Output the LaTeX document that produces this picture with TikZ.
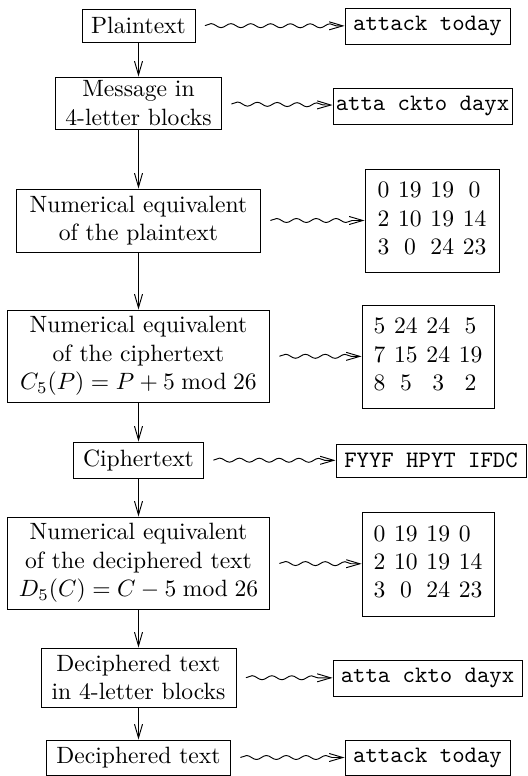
\documentclass[tikz,border=0pt]{standalone}
\usetikzlibrary{arrows.meta,decorations.pathmorphing}
\newcommand\pxu{0.424pt}
\begin{document}
\begin{tikzpicture}[x=0.424pt, y=-0.424pt,
  box/.style 2 args={draw, line width=0.4pt, inner sep=0pt, align=center,
    minimum width=#1*\pxu, minimum height=#2*\pxu},
  tip/.style={-{Straight Barb[length=5.8pt,width=3.4pt]}},
  down/.style={tip, line width=0.4pt},
  sq/.style={tip, line width=0.4pt, decorate,
    decoration={snake, amplitude=0.85pt, segment length=8.4pt,
      pre=moveto, pre length=4pt, post length=2.5pt}}]
\useasboundingbox (0,0) rectangle (528,776);

% left column: the stages of the cipher
\node[box={113}{33}] (p1) at (138.5,25.5) {Plaintext};
\node[box={166}{52}] (p2) at (138.5,103) {Message in\\4-letter blocks};
\node[box={244}{63}] (p3) at (138.5,220.5) {Numerical equivalent\\of the plaintext};
\node[box={262}{92}] (p4) at (138.5,356) {Numerical equivalent\\of the ciphertext\\$C_5(P)=P+5 \bmod 26$};
\node[box={130}{36}] (p5) at (138.5,460) {Ciphertext};
\node[box={262}{92}] (p6) at (138.5,563) {Numerical equivalent\\of the deciphered text\\$D_5(C)=C-5 \bmod 26$};
\node[box={195}{59}] (p7) at (138.5,677.5) {Deciphered text\\in 4-letter blocks};
\node[box={184}{35}] (p8) at (138.5,757.5) {Deciphered text};

% right column: the worked example
\node[box={165}{36}] (r1) at (427.5,26) {\ttfamily attack today};
\node[box={179}{36}] (r2) at (422.5,106) {\ttfamily atta ckto dayx};
\node[box={134}{103}] (r3) at (432,220.5)
  {\begin{tabular}{@{}c@{\hspace{3.7pt}}c@{\hspace{3.7pt}}c@{\hspace{3.7pt}}c@{}}
   0&19&19&0\\ 2&10&19&14\\ 3&0&24&23\end{tabular}};
\node[box={132}{103}] (r4) at (428,356.5)
  {\begin{tabular}{@{}c@{\hspace{3.7pt}}c@{\hspace{3.7pt}}c@{\hspace{3.7pt}}c@{}}
   5&24&24&5\\ 7&15&24&19\\ 8&5&3&2\end{tabular}};
\node[box={190}{33}] (r5) at (431,460.5) {\ttfamily FYYF HPYT IFDC};
\node[box={132}{104}] (r6) at (428,564)
  {\begin{tabular}{@{}c@{\hspace{3.7pt}}c@{\hspace{3.7pt}}c@{\hspace{3.7pt}}c@{}}
   0&19&19&\multicolumn{1}{@{}l@{}}{0}\\ 2&10&19&14\\ 3&0&24&23\end{tabular}};
\node[box={189}{36}] (r7) at (427.5,678) {\ttfamily atta ckto dayx};
\node[box={165}{35}] (r8) at (427.5,757.5) {\ttfamily attack today};

% flow down the left column
\foreach \a/\b in {p1/p2,p2/p3,p3/p4,p4/p5,p5/p6,p6/p7,p7/p8}
  \draw[down] (\a) -- (\b);

% squiggly arrows to the examples
\foreach \i in {1,...,8}
  \draw[sq] (p\i) -- (r\i);
\end{tikzpicture}
\end{document}
